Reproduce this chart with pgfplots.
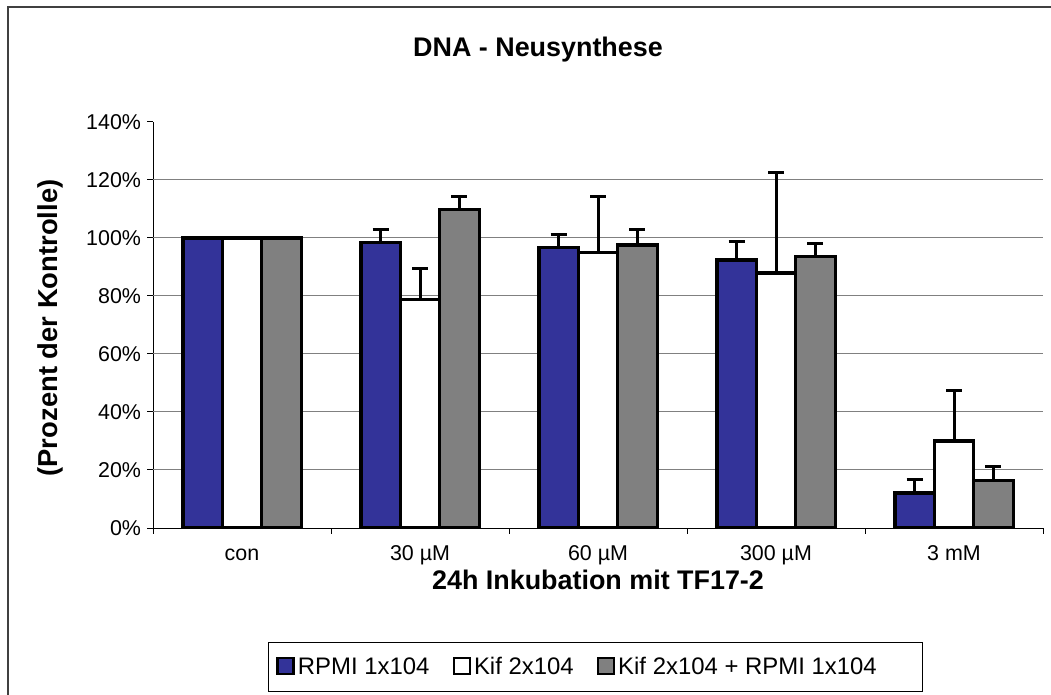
\documentclass[border=0pt]{standalone}
\usepackage{fontspec}
\setmainfont{Liberation Sans}
\usepackage{pgfplots}
\usepackage{pgfplotstable}
\pgfplotsset{compat=1.18}
\definecolor{rpmiblue}{RGB}{51,51,153}
\definecolor{kifgray}{RGB}{128,128,128}
\definecolor{framegray}{RGB}{64,64,64}

% x = category index, y = percent of control, err = upper error
\pgfplotstableread{
x y err
0 100.0 0
1 98.4 4.6
2 96.7 4.6
3 92.4 6.5
4 12.1 4.6
}\rpmi
\pgfplotstableread{
x y err
0 100.0 0
1 78.9 10.7
2 95.0 19.4
3 87.9 34.8
4 30.0 17.4
}\kif
\pgfplotstableread{
x y err
0 100.0 0
1 109.9 4.5
2 97.6 5.4
3 93.7 4.5
4 16.4 4.9
}\kifrpmi

\begin{document}
\begin{tikzpicture}
\useasboundingbox (0bp,0bp) rectangle (1051bp,695bp);
\draw[line width=2bp, framegray] (8bp,-20bp) -- (8bp,687.5bp) -- (1080bp,687.5bp);
\begin{axis}[
  at={(153bp,167bp)}, anchor=south west,
  scale only axis, width=890bp, height=406bp,
  xmin=-0.5, xmax=4.5, ymin=0, ymax=140,
  axis x line*=bottom, axis y line*=left,
  axis line style={line width=1bp, black},
  tick style={line width=1bp, black},
  tick align=outside, major tick length=5.5bp,
  xtick={-0.5,0.5,1.5,2.5,3.5,4.5},
  x tick label as interval,
  xticklabels={con,30 µM,60 µM,300 µM,3 mM},
  ytick={0,20,...,140},
  yticklabel={\pgfmathprintnumber{\tick}\%},
  extra y ticks={20,40,...,120},
  extra y tick labels={},
  extra y tick style={ymajorgrids=true, major tick length=0pt},
  grid style={line width=1bp, kifgray},
  /pgf/number format/assume math mode=true,
  tick label style={font=\fontsize{21.5}{24}\selectfont},
  xticklabel style={text height=15.5bp, text depth=4.5bp, yshift=-8bp},
  yticklabel style={xshift=-3bp},
  ybar=0pt, bar width=39.4bp,
  legend columns=3,
  legend style={at={(0.1292,-0.3425)}, anchor=west, draw=black, line width=1bp,
    font=\fontsize{24}{26}\selectfont, inner xsep=8bp, inner ysep=13bp,
    nodes={inner xsep=3bp},
    /tikz/every even column/.append style={column sep=20bp}},
  legend image code/.code={\draw[#1, draw=black, line width=2.5bp] (0bp,-7bp) rectangle (16bp,9bp);},
  every axis plot/.append style={draw=black, line width=3.2bp,
    error bars/y dir=plus, error bars/y explicit,
    error bars/error bar style={line width=3bp, black},
    error bars/error mark options={rotate=90, mark size=8bp, line width=3bp, black}},
]
\addplot[fill=rpmiblue] table[x=x, y=y, y error=err] {\rpmi};
\addlegendentry{RPMI 1x104}
\addplot[fill=white] table[x=x, y=y, y error=err] {\kif};
\addlegendentry{Kif 2x104}
\addplot[fill=kifgray] table[x=x, y=y, y error=err] {\kifrpmi};
\addlegendentry{Kif 2x104 + RPMI 1x104\rule{35bp}{0pt}}
\end{axis}
\node[anchor=base, font=\bfseries\fontsize{27}{30}\selectfont] at (538bp,638bp) {DNA - Neusynthese};
\node[anchor=base, font=\bfseries\fontsize{27}{30}\selectfont] at (598bp,105bp) {24h Inkubation mit TF17-2};
\node[rotate=90, font=\bfseries\fontsize{27.5}{30}\selectfont] at (50bp,367bp) {(Prozent der Kontrolle)};
\end{tikzpicture}
\end{document}
